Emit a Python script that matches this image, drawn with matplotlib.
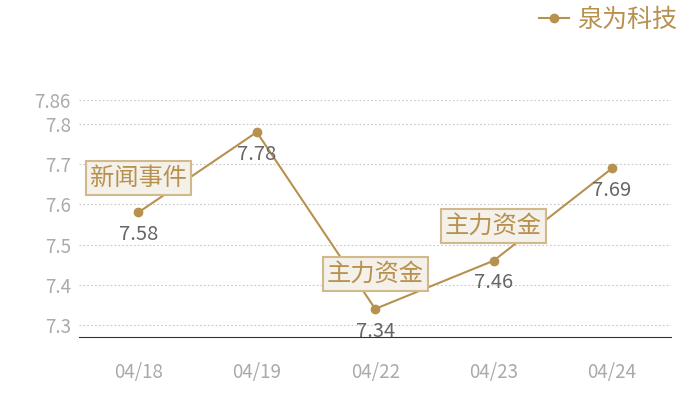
import matplotlib
matplotlib.use("Agg")
import matplotlib.pyplot as plt

plt.rcParams['font.family'] = ['Noto Sans CJK SC', 'DejaVu Sans']

dates = ['04/18', '04/19', '04/22', '04/23', '04/24']
prices = [7.58, 7.78, 7.34, 7.46, 7.69]
y_ticks = [7.3, 7.4, 7.5, 7.6, 7.7, 7.8, 7.86]
events = {0: '新闻事件', 2: '主力资金', 3: '主力资金'}

gold = '#b8914f'

fig = plt.figure(figsize=(7, 4), dpi=100)
ax = fig.add_axes([0.113, 0.1575, 0.846, 0.5925])

x = list(range(len(dates)))
ax.plot(x, prices, color=gold, lw=1.5, marker='o', ms=6, label='泉为科技', zorder=3)

for i, v in enumerate(prices):
    ax.annotate(f'{v:.2f}', (i, v), xytext=(0, -16), textcoords='offset points',
                ha='center', va='center', fontsize=14.5, color='#666666')

for i, txt in events.items():
    ax.annotate(txt, (i, prices[i]), xytext=(0, 25), textcoords='offset points',
                ha='center', va='center', fontsize=17.5, color=gold, zorder=5,
                bbox=dict(boxstyle='square,pad=0.16', fc='#f4f0ea', ec='#d2b98c', lw=1.5))

ax.set_xlim(-0.5, len(dates) - 0.5)
ax.set_ylim(7.27, 7.86)
ax.set_xticks(x)
ax.set_xticklabels(dates)
ax.set_yticks(y_ticks)
ax.set_yticklabels([f'{t:g}' for t in y_ticks])
ax.tick_params(length=0, labelsize=13.5, colors='#aaaaaa')
ax.tick_params(axis='x', pad=18)
ax.tick_params(axis='y', pad=6)
ax.grid(axis='y', ls=(0, (1.5, 2)), color='#c8c8c8', lw=0.8)
for s in ['top', 'right', 'left']:
    ax.spines[s].set_visible(False)
ax.spines['bottom'].set_color('#333333')

fig.legend(loc='upper right', bbox_to_anchor=(1.0, 1.04), frameon=False,
           fontsize=18, labelcolor=gold, handlelength=1.2, handletextpad=0.35)

fig.savefig('out.png', dpi=100)
